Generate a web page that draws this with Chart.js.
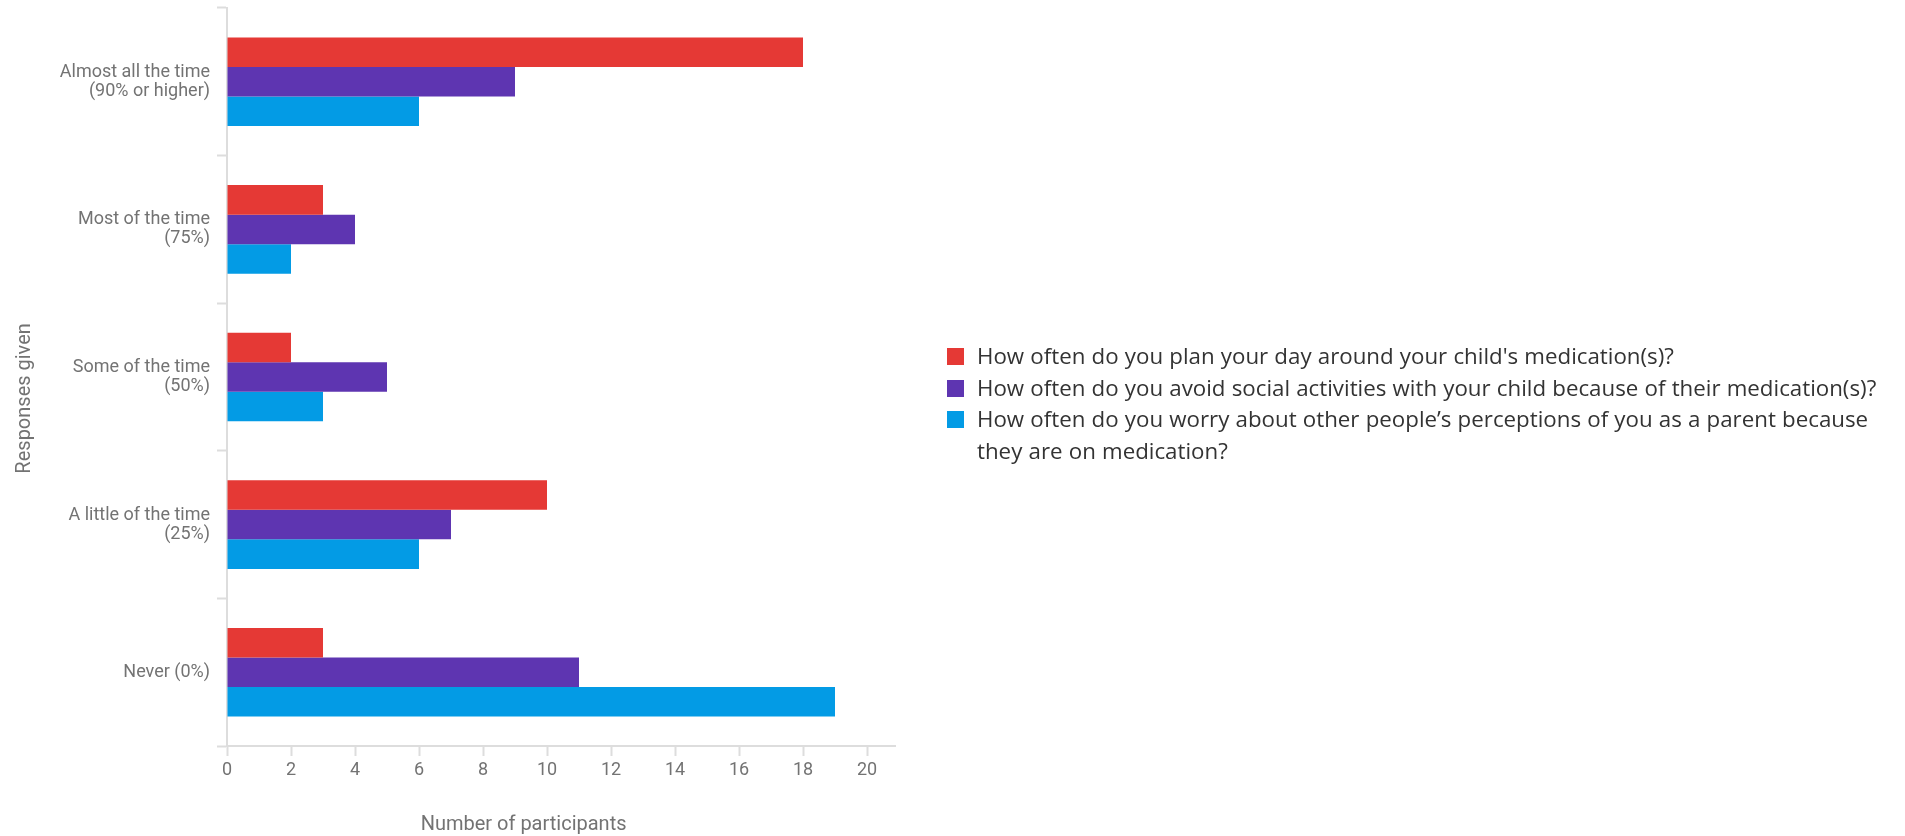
<!DOCTYPE html>
<html>
<head>
<meta charset="utf-8">
<script src="https://cdn.jsdelivr.net/npm/chart.js@4.4.1/dist/chart.umd.min.js"></script>
<style>
  html, body { margin: 0; padding: 0; background: #ffffff; overflow: hidden; }
  #wrap { position: relative; width: 1905px; height: 836px; }
  #legend { position: absolute; left: 947px; top: 340px; width: 955px;
            font-family: "Open Sans", sans-serif; font-size: 22.3px; line-height: 31.7px; color: #333333; word-spacing: 0.4px; }
  .item { display: flex; align-items: flex-start; }
  .box { flex: 0 0 17px; width: 17px; height: 17px; margin-top: 8px; margin-right: 13px; }
  .txt { flex: 1 1 auto; }
</style>
</head>
<body>
<div id="wrap">
  <canvas id="c"></canvas>
  <div id="legend"></div>
</div>
<script>
// ---- Data ----
const categories = [
  ["Almost all the time", "(90% or higher)"],
  ["Most of the time", "(75%)"],
  ["Some of the time", "(50%)"],
  ["A little of the time", "(25%)"],
  ["Never (0%)"]
];
const seriesLabels = [
  "How often do you plan your day around your child's medication(s)?",
  "How often do you avoid social activities with your child because of their medication(s)?",
  "How often do you worry about other people\u2019s perceptions of you as a parent because they are on medication?"
];
const planDay = [18, 3, 2, 10, 3];
const avoidSocial = [9, 4, 5, 7, 11];
const worryPerception = [6, 2, 3, 6, 19];
const xAxisTitle = "Number of participants";
const yAxisTitle = "Responses given";

// ---- Styles ----
const colors = ["#E53935", "#5E35B1", "#039BE5"];
const axisGray = "#737373";
const lineGray = "#dddddd";

const axisTitles = {
  id: "axisTitles",
  afterDraw(chart) {
    const ctx = chart.ctx;
    const a = chart.chartArea;
    ctx.save();
    ctx.fillStyle = axisGray;
    ctx.font = "20px Roboto";
    ctx.textAlign = "center";
    ctx.textBaseline = "alphabetic";
    ctx.fillText(xAxisTitle, a.left + (a.right - a.left) * 0.444, a.bottom + 84);
    ctx.translate(29.5, a.top + (a.bottom - a.top) * 0.529);
    ctx.rotate(-Math.PI / 2);
    ctx.fillText(yAxisTitle, 0, 0);
    ctx.restore();
  }
};

const seriesData = [planDay, avoidSocial, worryPerception];
const chart = new Chart(document.getElementById("c"), {
  type: "bar",
  data: {
    labels: categories,
    datasets: seriesData.map((d, i) => ({
      label: seriesLabels[i],
      data: d,
      backgroundColor: colors[i],
      borderWidth: 0,
      categoryPercentage: 0.6,
      barPercentage: 1.0
    }))
  },
  options: {
    indexAxis: "y",
    responsive: true,
    maintainAspectRatio: false,
    animation: false,
    devicePixelRatio: 1,
    layout: { padding: { top: 8, right: 1010, left: 0, bottom: 0 } },
    plugins: {
      legend: { display: false },
      tooltip: { enabled: false }
    },
    scales: {
      x: {
        min: 0,
        max: 20.875,
        afterFit(s) { s.height = 90; s.paddingLeft = 0; s.paddingRight = 0; },
        ticks: { stepSize: 2, includeBounds: false, color: axisGray,
                 font: { family: "Roboto", size: 18 }, padding: 4 },
        grid: { display: true, drawOnChartArea: false, tickLength: 10, color: lineGray, tickWidth: 2 },
        border: { color: lineGray, width: 2 }
      },
      y: {
        afterFit(s) { s.width = 227; s.paddingTop = 0; s.paddingBottom = 0; },
        ticks: { color: axisGray, font: { family: "Roboto", size: 18, lineHeight: 1.05 }, padding: 7 },
        grid: { display: true, drawOnChartArea: false, tickLength: 10, color: lineGray, tickWidth: 2, offset: true },
        border: { color: lineGray, width: 2 }
      }
    }
  },
  plugins: [axisTitles]
});

// HTML legend built from the chart's own legend items
const legendEl = document.getElementById("legend");
chart.options.plugins.legend.labels.generateLabels(chart).forEach(item => {
  const row = document.createElement("div");
  row.className = "item";
  const box = document.createElement("span");
  box.className = "box";
  box.style.background = item.fillStyle;
  const txt = document.createElement("span");
  txt.className = "txt";
  txt.textContent = item.text;
  row.appendChild(box);
  row.appendChild(txt);
  legendEl.appendChild(row);
});
</script>
</body>
</html>
